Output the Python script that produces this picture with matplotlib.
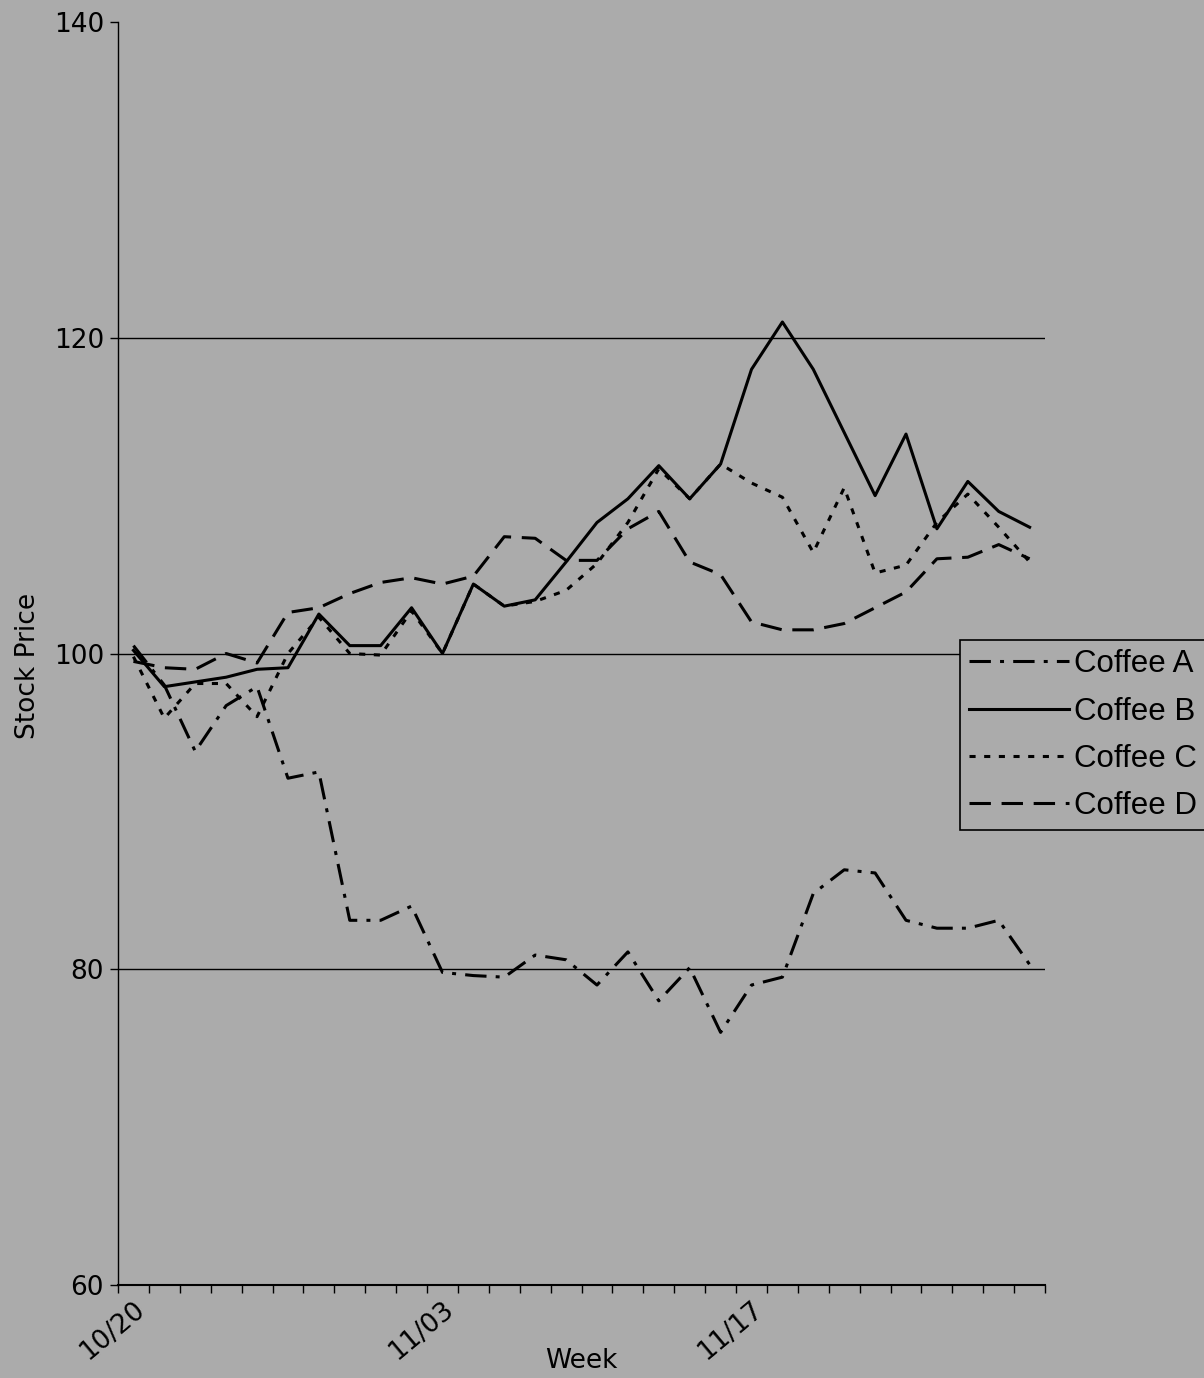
import numpy as np
import matplotlib
matplotlib.use("Agg")
import matplotlib.pyplot as plt

# trading days 10/20 .. (30 points), prices
day_labels = ["10/20", "11/03", "11/17"]
label_pos = [0, 10, 20]

coffee_a = [100.5, 98.0, 93.8, 96.7, 97.9, 92.1, 92.5, 83.1, 83.1, 84.0,
            79.8, 79.6, 79.5, 80.9, 80.6, 79.0, 81.1, 78.0, 80.1, 76.0,
            79.0, 79.5, 84.8, 86.3, 86.1, 83.1, 82.6, 82.6, 83.1, 80.3]
coffee_b = [100.2, 97.9, 98.2, 98.5, 99.0, 99.1, 102.5, 100.5, 100.5, 102.9,
            100.0, 104.4, 103.0, 103.4, 105.8, 108.3, 109.8, 111.9, 109.8, 112.0,
            118.0, 121.0, 118.0, 114.0, 110.0, 113.9, 107.9, 110.9, 109.0, 108.0]
coffee_c = [99.8, 95.9, 98.1, 98.1, 96.0, 100.0, 102.3, 100.0, 99.9, 102.7,
            100.0, 104.4, 103.0, 103.3, 104.0, 105.7, 108.3, 111.7, 109.8, 112.0,
            110.8, 109.9, 106.4, 110.5, 105.1, 105.6, 108.3, 110.1, 108.0, 105.8]
coffee_d = [99.5, 99.1, 99.0, 100.0, 99.4, 102.6, 102.9, 103.8, 104.5, 104.8,
            104.4, 104.9, 107.4, 107.3, 105.9, 105.9, 107.9, 109.0, 105.8, 105.0,
            102.0, 101.5, 101.5, 101.9, 102.9, 103.9, 106.0, 106.1, 106.9, 106.0]

series = [("Coffee A", coffee_a, (0, (7, 3, 1.3, 3))),
          ("Coffee B", coffee_b, "-"),
          ("Coffee C", coffee_c, (0, (2, 2.8))),
          ("Coffee D", coffee_d, (0, (7, 3.5)))]

bg = "#ababab"
plt.rcParams["font.family"] = ["DejaVu Sans"]

fig = plt.figure(figsize=(12.04, 13.78), dpi=100, facecolor=bg)
ax = fig.add_axes([0.098, 0.0675, 0.77, 0.9165], facecolor=bg)

x = np.arange(len(coffee_a))
for name, vals, ls in series:
    ax.plot(x, vals, color="black", linewidth=2.2, linestyle=ls, label=name)

ax.set_xlim(-0.5, len(x) - 0.5)
ax.set_ylim(60, 140)
ax.set_yticks([60, 80, 100, 120, 140])
for v in [80, 100, 120]:
    ax.axhline(v, color="black", linewidth=1.0, zorder=0)

ax.set_xticks(label_pos)
ax.set_xticklabels(day_labels, rotation=40, ha="right", rotation_mode="anchor")
ax.set_xticks(np.arange(-0.5, len(x), 1), minor=True)
ax.tick_params(axis="x", which="major", length=0, pad=8, labelsize=19)
ax.tick_params(axis="x", which="minor", length=6, direction="out", width=1)
ax.tick_params(axis="y", length=6, direction="out", width=1, labelsize=19, pad=4)

for s in ["top", "right"]:
    ax.spines[s].set_visible(False)
ax.spines["left"].set_linewidth(1.0)
ax.spines["bottom"].set_linewidth(1.5)

ax.set_xlabel("Week", fontsize=19)
ax.xaxis.set_label_coords(0.5, -0.05)
ax.set_ylabel("Stock Price", fontsize=19)
ax.yaxis.set_label_coords(-0.083, 0.49)

leg = fig.legend(loc="upper left", bbox_to_anchor=(0.797, 0.5356),
                 prop={"family": "Liberation Sans", "size": 22.5},
                 handlelength=3.2, handletextpad=0.15, borderpad=0.3,
                 labelspacing=0.55, fancybox=False, framealpha=1,
                 facecolor=bg, edgecolor="black", borderaxespad=0)
leg.get_frame().set_linewidth(1.2)

fig.savefig("out.png", dpi=100, facecolor=bg)
